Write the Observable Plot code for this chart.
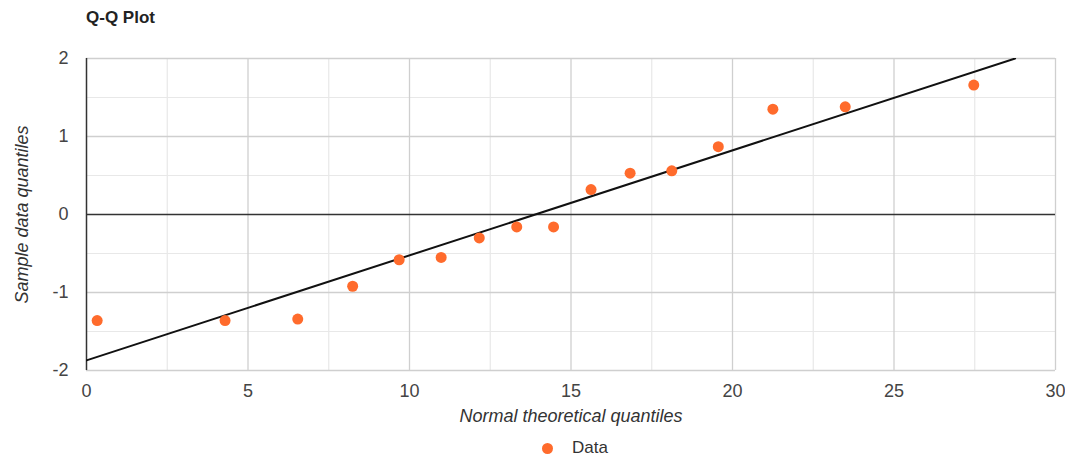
<!DOCTYPE html>
<html>
<head>
<meta charset="utf-8">
<script src="https://cdn.jsdelivr.net/npm/d3@7"></script>
<script src="https://cdn.jsdelivr.net/npm/@observablehq/plot@0.6"></script>
<style>
  html, body { margin: 0; padding: 0; background: #fff; }
  #wrap { position: relative; width: 1065px; height: 457px; font-family: "Liberation Sans", Arial, sans-serif; }
  #title { position: absolute; left: 86px; top: 8px; font-size: 17px; font-weight: bold; color: #222; }
  #legend { position: absolute; left: 542px; top: 438px; font-size: 17px; color: #333; display: flex; align-items: center; }
  #legend .dot { width: 11px; height: 11px; border-radius: 50%; background: #ff6b2c; margin-right: 19px; }
</style>
</head>
<body>
<div id="wrap">
  <div id="chart"></div>
  <div id="title">Q-Q Plot</div>
  <div id="legend"><span class="dot"></span><span>Data</span></div>
</div>
<script>
// Theoretical quantiles (x) and sample quantiles (y)
const theoretical = [0.33, 4.29, 6.54, 8.24, 9.68, 10.98, 12.16, 13.32, 14.46, 15.62, 16.83, 18.12, 19.56, 21.25, 23.49, 27.47];
const sample = [-1.36, -1.36, -1.34, -0.92, -0.58, -0.55, -0.30, -0.16, -0.16, 0.32, 0.53, 0.56, 0.87, 1.35, 1.38, 1.66];
// Reference line endpoints
const lineX = [0, 28.75];
const lineY = [-1.87, 2.0];
// Ticks
const xTicks = [0, 5, 10, 15, 20, 25, 30];
const xMinor = [2.5, 7.5, 12.5, 17.5, 22.5, 27.5];
const yTicks = [-2, -1, 0, 1, 2];
const yMinor = [-1.5, -0.5, 0.5, 1.5];

const points = theoretical.map((x, i) => ({x, y: sample[i]}));
const refLine = lineX.map((x, i) => ({x, y: lineY[i]}));

const chart = Plot.plot({
  width: 1065,
  height: 457,
  marginLeft: 86,
  marginRight: 10,
  marginTop: 58,
  marginBottom: 87,
  style: { fontFamily: "Liberation Sans, Arial, sans-serif", fontSize: "18px", color: "#444", background: "#fff" },
  x: { domain: [0, 30] },
  y: { domain: [-2, 2] },
  marks: [
    Plot.ruleX(xMinor, { stroke: "#e8e8e8", strokeWidth: 1.2 }),
    Plot.ruleY(yMinor, { stroke: "#e8e8e8", strokeWidth: 1.2 }),
    Plot.ruleX(xTicks.slice(1), { stroke: "#cfcfcf", strokeWidth: 1.3 }),
    Plot.ruleY([-2, -1, 1, 2], { stroke: "#cfcfcf", strokeWidth: 1.3 }),
    Plot.ruleY([0], { stroke: "#333", strokeWidth: 1.3 }),
    Plot.ruleX([0], { stroke: "#333", strokeWidth: 1.5 }),
    Plot.line(refLine, { x: "x", y: "y", stroke: "#111", strokeWidth: 2, clip: true }),
    Plot.dot(points, { x: "x", y: "y", r: 5.5, fill: "#ff6b2c", stroke: "none" }),
    Plot.axisX({ ticks: xTicks, tickSize: 0, tickPadding: 14, label: null, fill: "#444", fontSize: 18, tickFormat: d => String(d) }),
    Plot.axisY({ ticks: yTicks, tickSize: 0, tickPadding: 18, label: null, fill: "#444", fontSize: 18, tickFormat: d => String(d) }),
    Plot.text(["Normal theoretical quantiles"], { frameAnchor: "bottom", dy: 51, fontStyle: "italic", fontSize: 18, fill: "#333" }),
    Plot.text(["Sample data quantiles"], { frameAnchor: "left", dx: -64, rotate: -90, textAnchor: "middle", fontStyle: "italic", fontSize: 18, fill: "#333" })
  ]
});
document.getElementById("chart").append(chart);
</script>
</body>
</html>
